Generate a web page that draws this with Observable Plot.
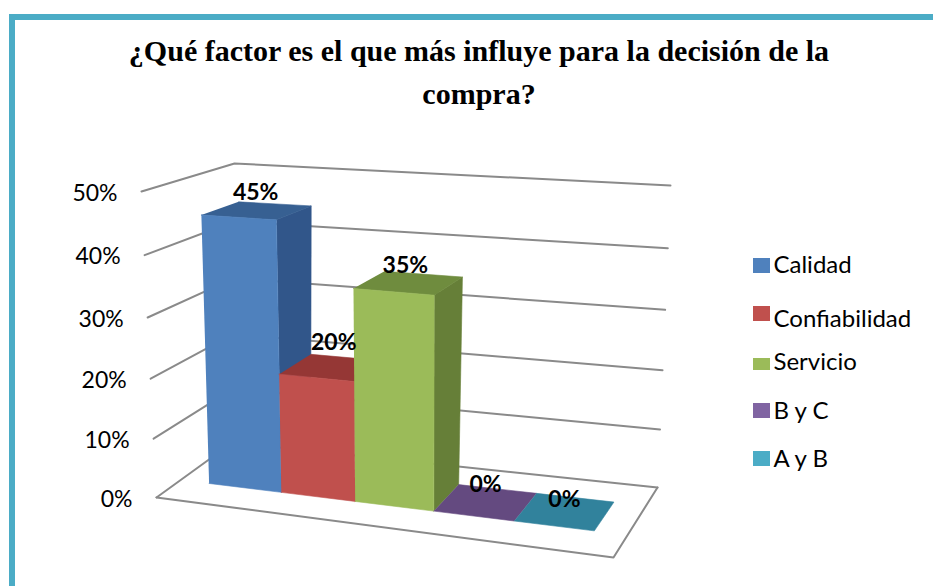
<!DOCTYPE html>
<html lang="es">
<head>
<meta charset="utf-8">
<title>¿Qué factor es el que más influye para la decisión de la compra?</title>
<script src="https://cdn.jsdelivr.net/npm/d3@7"></script>
<script src="https://cdn.jsdelivr.net/npm/@observablehq/plot@0.6"></script>
<style>
  html, body { margin: 0; padding: 0; background: #fff; }
  #page { position: relative; width: 933px; height: 586px; overflow: hidden; }
  #page h1 {
    position: absolute; left: 79px; top: 29px; width: 800px; margin: 0;
    font: bold 30px/43px "Liberation Serif", serif; color: #000; text-align: center;
  }
  #chart { position: absolute; left: 0; top: 0; }
</style>
</head>
<body>
<div id="page">
  <div id="chart"></div>
  <h1>¿Qué factor es el que más influye para la decisión de la<br>compra?</h1>
</div>
<script>
// ---- data ----
const categories = ["Calidad", "Confiabilidad", "Servicio", "B y C", "A y B"];
const values = [45, 20, 35, 0, 0];
const axisTicks = [0, 10, 20, 30, 40, 50];

// ---- colours ----
const frontColors = ["#4f81bd", "#c0504d", "#9bbb59", "#8064a2", "#4bacc6"];
const sideColors  = ["#31568a", "#8c3836", "#667f38", "#5a4678", "#2f7f96"];
const topColors   = ["#376092", "#953735", "#6f8c3e", "#644a80", "#31829c"];
const frameColor = "#4bacc6";
const gridColor = "#8a8a8a";

// ---- 3D view of the chart box: floor corners and full-height vectors at those corners ----
const floorQuad = [[156, 497], [613, 557], [657, 487], [232, 442]];
const heightVectors = [[-15, -306], [5, -332], [13, -302], [2, -279]];
const barEdges = [0.074, 0.255, 0.430, 0.606, 0.776, 0.936];
const depthFront = 0.30, depthBack = 0.72;
const maxValue = 50, heightPerspective = 0.05;

function homography([[x0, y0], [x1, y1], [x2, y2], [x3, y3]]) {
  const dx1 = x1 - x2, dx2 = x3 - x2, sx = x0 - x1 + x2 - x3;
  const dy1 = y1 - y2, dy2 = y3 - y2, sy = y0 - y1 + y2 - y3;
  const den = dx1 * dy2 - dx2 * dy1;
  const g = (sx * dy2 - dx2 * sy) / den, h = (dx1 * sy - sx * dy1) / den;
  const a = x1 - x0 + g * x1, b = x3 - x0 + h * x3;
  const d = y1 - y0 + g * y1, e = y3 - y0 + h * y3;
  return (u, w) => {
    const k = g * u + h * w + 1;
    return [(a * u + b * w + x0) / k, (d * u + e * w + y0) / k];
  };
}
const floorAt = homography(floorQuad);
const [hFL, hFR, hBR, hBL] = heightVectors;
const heightAt = (u, w) => [0, 1].map((c) =>
  (1 - w) * ((1 - u) * hFL[c] + u * hFR[c]) + w * ((1 - u) * hBL[c] + u * hBR[c]));
// u: across the categories, w: into the depth, v: the value
function project(u, w, v) {
  const [fx, fy] = floorAt(u, w), [hx, hy] = heightAt(u, w);
  const r = v / maxValue, t = r / (1 + heightPerspective * (1 - r));
  return {x: fx + hx * t, y: fy + hy * t};
}

// ---- faces ----
const face = (pts, color) =>
  Plot.line(pts, {x: "x", y: "y", fill: color, stroke: color, strokeWidth: 0.6, curve: "linear"});
const gridLine = (pts) =>
  Plot.line(pts, {x: "x", y: "y", stroke: gridColor, strokeWidth: 2, curve: "linear"});

const barMarks = categories.flatMap((_, i) => {
  const v = values[i], u0 = barEdges[i], u1 = barEdges[i + 1];
  const marks = [];
  if (v > 0) marks.push(face([project(u1, depthFront, 0), project(u1, depthBack, 0), project(u1, depthBack, v), project(u1, depthFront, v)], sideColors[i]));
  marks.push(face([project(u0, depthFront, v), project(u1, depthFront, v), project(u1, depthBack, v), project(u0, depthBack, v)], topColors[i]));
  if (v > 0) marks.push(face([project(u0, depthFront, 0), project(u1, depthFront, 0), project(u1, depthFront, v), project(u0, depthFront, v)], frontColors[i]));
  return marks;
});

const gridMarks = axisTicks.map((t) => gridLine([project(0, 0, t), project(0, 1, t), project(1, 1, t)]));
const floorMark = gridLine([project(0, 0, 0), project(1, 0, 0), project(1, 1, 0)]);

const axisLabelGap = 24;
const axisLabels = axisTicks.map((t) => {
  const p = project(0, 0, t);
  return {label: t + "%", x: p.x - axisLabelGap, y: p.y};
});
// small hand nudges of the value labels, as placed in the original
const labelNudgeX = [-1, 2, -3, 0, 0], labelNudgeY = [0, -7, 0, 0, 6];
const valueLabels = categories.map((_, i) => {
  const p = project((barEdges[i] + barEdges[i + 1]) / 2, (depthFront + depthBack) / 2, values[i]);
  return {label: values[i] + "%", x: p.x + labelNudgeX[i], y: p.y + labelNudgeY[i]};
});

// ---- legend layout ----
const swatchX = [753, 770], legendTextX = 773;
const swatchTop = [258, 306, 358, 403, 451], swatchBottom = [273, 321, 370, 418, 466];
const legendBaseline = [272, 326, 369, 418, 466];
const legendRows = categories.map((c, i) => ({
  name: c, color: frontColors[i], y1: swatchTop[i], y2: swatchBottom[i], base: legendBaseline[i]
}));

const chart = Plot.plot({
  width: 933, height: 586, margin: 0,
  x: {domain: [0, 933], range: [0, 933], axis: null},
  y: {domain: [0, 586], range: [0, 586], axis: null},
  style: {background: "#fff", fontFamily: "Lato, sans-serif"},
  marks: [
    // slide frame
    Plot.rect([{}], {x1: () => 9, x2: () => 933, y1: () => 14, y2: () => 20, fill: frameColor}),
    Plot.rect([{}], {x1: () => 9, x2: () => 15, y1: () => 14, y2: () => 586, fill: frameColor}),
    ...gridMarks,
    floorMark,
    ...barMarks,
    Plot.text(axisLabels, {x: "x", y: "y", text: "label", textAnchor: "end", dy: 2, fontSize: 23, fill: "#000"}),
    Plot.text(valueLabels, {x: "x", y: "y", text: "label", lineAnchor: "bottom", dy: -10, fontSize: 23, fontWeight: "bold", fill: "#000"}),
    Plot.rect(legendRows, {x1: () => swatchX[0], x2: () => swatchX[1], y1: "y1", y2: "y2", fill: "color"}),
    Plot.text(legendRows, {x: () => legendTextX, y: "base", text: "name", textAnchor: "start", lineAnchor: "bottom", dy: 0, fontSize: 24, fill: "#000"})
  ]
});
document.getElementById("chart").append(chart);
</script>
</body>
</html>
